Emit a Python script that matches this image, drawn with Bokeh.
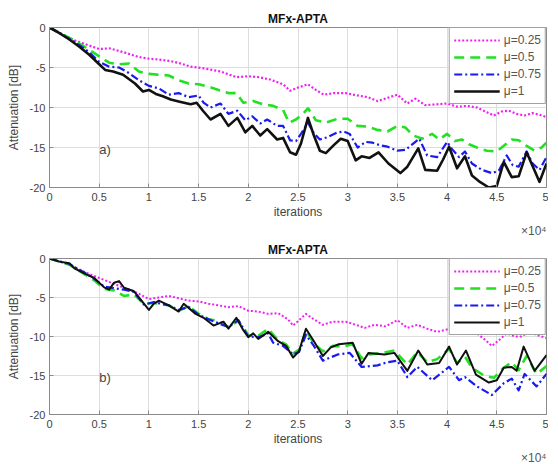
from bokeh.plotting import figure
from bokeh.layouts import column
from bokeh.models import Label, Legend, LegendItem, FixedTicker, Range1d, Title
from bokeh.embed import file_html
from bokeh.resources import INLINE

# ---------------- data (x in units of 1e4 iterations, y in dB) ----------------
x_ticks = [0, 0.5, 1, 1.5, 2, 2.5, 3, 3.5, 4, 4.5, 5]
y_ticks = [-20, -15, -10, -5, 0]
labels = ["\u03bc=0.25", "\u03bc=0.5", "\u03bc=0.75", "\u03bc=1"]
title_text = "MFx-APTA"
x_exponent = "\u00d710\u2074"

# panel a)
a_mu025_x = [0, 0.25, 0.5, 0.6, 0.75, 0.9, 1.0, 1.1, 1.22, 1.32, 1.42, 1.55, 1.72, 1.88, 2.0, 2.1, 2.22, 2.35,
             2.42, 2.5, 2.6, 2.68, 2.76, 2.86, 2.98, 3.1, 3.2, 3.3, 3.4, 3.5, 3.6, 3.68, 3.78, 3.9, 4.0, 4.1, 4.2,
             4.3, 4.4, 4.47, 4.55, 4.62, 4.7, 4.78, 4.86, 4.93, 5.0]
a_mu025_y = [0, -1.6, -2.7, -2.6, -3.1, -3.7, -3.9, -4.0, -4.2, -4.5, -4.9, -5.1, -5.5, -6.2, -6.1, -6.2, -6.5,
             -7.1, -7.9, -7.5, -7.1, -7.8, -8.4, -8.2, -8.2, -8.5, -8.7, -9.2, -8.8, -8.4, -9.5, -8.9, -9.7, -9.6,
             -9.5, -9.9, -9.8, -10.0, -10.6, -11.0, -10.5, -10.4, -10.8, -11.0, -10.7, -10.9, -11.2]

a_mu05_x = [0, 0.2, 0.3, 0.4, 0.5, 0.6, 0.7, 0.8, 0.9, 1.0, 1.1, 1.2, 1.3, 1.4, 1.5, 1.6, 1.7, 1.8, 1.88, 1.95,
            2.05, 2.15, 2.25, 2.35, 2.41, 2.48, 2.55, 2.6, 2.68, 2.78, 2.9, 3.0, 3.1, 3.2, 3.3, 3.4, 3.5, 3.58,
            3.66, 3.75, 3.85, 3.92, 4.0, 4.08, 4.15, 4.22, 4.3, 4.4, 4.5, 4.58, 4.65, 4.72, 4.8, 4.88, 4.95, 5.0]
a_mu05_y = [0, -1.3, -2.0, -2.8, -3.6, -4.4, -4.6, -4.5, -5.5, -5.8, -5.9, -6.0, -6.6, -7.0, -7.1, -7.4, -7.8,
            -8.2, -8.2, -9.4, -9.2, -9.6, -9.8, -10.3, -11.9, -11.5, -10.8, -10.1, -11.6, -11.9, -11.4, -11.4,
            -12.3, -12.4, -12.8, -13.0, -12.3, -12.5, -13.5, -13.9, -13.3, -14.0, -13.3, -14.2, -14.0, -14.6,
            -15.0, -15.4, -15.5, -14.7, -14.0, -14.1, -14.8, -15.4, -15.0, -14.4]

a_mu075_x = [0, 0.2, 0.3, 0.4, 0.5, 0.6, 0.7, 0.8, 0.9, 1.0, 1.1, 1.2, 1.3, 1.4, 1.5, 1.55, 1.62, 1.72, 1.8, 1.89,
             1.97, 2.04, 2.12, 2.19, 2.29, 2.35, 2.42, 2.48, 2.53, 2.6, 2.66, 2.72, 2.8, 2.9, 2.96, 3.02, 3.1, 3.18,
             3.25, 3.32, 3.4, 3.5, 3.58, 3.65, 3.72, 3.8, 3.9, 4.0, 4.05, 4.12, 4.18, 4.25, 4.35, 4.45, 4.52, 4.6,
             4.66, 4.72, 4.8, 4.86, 4.93, 5.0]
a_mu075_y = [0, -1.4, -2.2, -3.1, -4.3, -4.9, -5.0, -5.7, -6.6, -7.3, -7.6, -8.4, -8.2, -8.7, -8.5, -9.4, -10.0,
             -9.5, -10.8, -10.4, -11.6, -11.1, -12.0, -11.5, -12.3, -12.3, -14.1, -14.2, -13.3, -11.9, -13.2,
             -14.0, -13.7, -13.1, -13.0, -13.3, -15.0, -14.3, -14.4, -14.7, -14.9, -15.4, -15.3, -14.6, -13.9,
             -16.0, -16.2, -14.3, -15.2, -16.2, -15.5, -17.0, -17.8, -18.2, -17.9, -16.0, -17.2, -17.4, -15.5,
             -17.0, -17.8, -16.2]

a_mu1_x = [0, 0.1, 0.2, 0.3, 0.4, 0.5, 0.56, 0.64, 0.74, 0.86, 0.94, 1.0, 1.07, 1.14, 1.22, 1.32, 1.42, 1.48,
           1.55, 1.62, 1.72, 1.8, 1.89, 1.97, 2.04, 2.12, 2.19, 2.29, 2.35, 2.42, 2.48, 2.53, 2.6, 2.66, 2.72,
           2.78, 2.86, 2.93, 3.0, 3.08, 3.14, 3.22, 3.31, 3.41, 3.53, 3.6, 3.71, 3.78, 3.9, 3.96, 4.02, 4.1, 4.18,
           4.25, 4.33, 4.42, 4.5, 4.57, 4.65, 4.72, 4.8, 4.86, 4.93, 5.0]
a_mu1_y = [0, -0.7, -1.5, -2.4, -3.4, -4.6, -5.3, -5.5, -5.9, -7.0, -8.0, -7.8, -8.3, -8.6, -9.0, -9.3, -9.6,
           -9.4, -10.5, -11.5, -10.8, -12.3, -11.3, -13.1, -12.3, -13.5, -12.7, -14.0, -13.8, -15.6, -15.9,
           -14.5, -11.3, -13.5, -15.4, -15.7, -14.7, -13.9, -14.2, -16.6, -16.1, -16.3, -15.6, -17.0, -18.2,
           -17.4, -15.1, -17.8, -17.9, -16.5, -14.9, -17.6, -16.1, -18.5, -19.3, -20.0, -19.8, -16.8, -18.7,
           -18.6, -15.6, -17.3, -19.3, -17.0]

# panel b)
b_mu025_x = [0, 0.2, 0.4, 0.6, 0.75, 0.85, 1.0, 1.1, 1.2, 1.3, 1.4, 1.5, 1.6, 1.7, 1.8, 1.9, 2.0, 2.1, 2.2, 2.3,
             2.4, 2.45, 2.52, 2.58, 2.66, 2.75, 2.85, 2.98, 3.08, 3.17, 3.27, 3.38, 3.5, 3.6, 3.7, 3.8, 3.9, 4.0,
             4.1, 4.2, 4.3, 4.38, 4.45, 4.52, 4.6, 4.68, 4.75, 4.82, 4.9, 5.0]
b_mu025_y = [0, -0.8, -2.0, -3.0, -3.75, -4.2, -5.2, -5.0, -4.8, -5.1, -5.4, -5.5, -5.8, -6.0, -6.25, -6.1, -6.7,
             -6.8, -7.1, -7.0, -7.8, -8.6, -7.8, -7.1, -7.8, -8.5, -8.1, -8.1, -8.5, -8.9, -8.5, -8.7, -7.9, -8.9,
             -8.5, -9.0, -9.4, -9.1, -9.2, -9.4, -9.6, -10.4, -11.2, -10.5, -9.6, -10.0, -10.0, -9.4, -9.8, -10.2]

b_mu05_x = [0, 0.2, 0.35, 0.45, 0.55, 0.65, 0.75, 0.85, 0.95, 1.05, 1.2, 1.3, 1.4, 1.5, 1.6, 1.7, 1.8, 1.9, 2.0,
            2.1, 2.2, 2.3, 2.38, 2.45, 2.52, 2.58, 2.66, 2.75, 2.85, 2.95, 3.05, 3.14, 3.22, 3.35, 3.47, 3.6, 3.7,
            3.8, 3.9, 4.02, 4.1, 4.18, 4.25, 4.37, 4.47, 4.57, 4.65, 4.72, 4.8, 4.9, 5.0]
b_mu05_y = [0, -0.8, -2.0, -2.8, -3.9, -4.1, -4.8, -4.6, -5.8, -5.7, -6.0, -6.7, -6.1, -7.1, -7.8, -8.0, -8.8,
            -8.0, -9.8, -9.9, -9.0, -10.5, -11.0, -12.2, -11.6, -9.2, -10.9, -11.9, -11.2, -11.3, -11.0, -12.8,
            -12.3, -12.1, -11.8, -13.6, -12.0, -13.3, -12.9, -11.6, -13.4, -12.6, -14.0, -15.0, -15.3, -14.0,
            -13.3, -14.3, -12.5, -14.8, -13.8]

b_mu075_x = [0, 0.2, 0.35, 0.45, 0.55, 0.65, 0.75, 0.85, 0.95, 1.05, 1.2, 1.3, 1.4, 1.5, 1.6, 1.7, 1.8, 1.9, 2.0,
             2.1, 2.2, 2.25, 2.35, 2.45, 2.51, 2.58, 2.66, 2.75, 2.9, 3.02, 3.14, 3.3, 3.4, 3.5, 3.6, 3.7, 3.85,
             4.02, 4.12, 4.18, 4.3, 4.45, 4.57, 4.65, 4.72, 4.78, 4.9, 5.0]
b_mu075_y = [0, -0.7, -1.8, -2.6, -3.6, -3.8, -4.0, -4.3, -5.9, -5.6, -6.0, -6.6, -6.2, -7.2, -7.8, -8.3, -8.8,
             -7.9, -10.0, -10.1, -9.6, -10.8, -11.2, -12.3, -12.0, -9.8, -11.2, -13.1, -12.3, -12.1, -13.9, -13.7,
             -13.3, -13.1, -15.2, -13.9, -15.6, -13.9, -15.6, -15.2, -16.4, -17.5, -16.0, -15.4, -16.9, -14.8,
             -16.4, -14.8]

b_mu1_x = [0, 0.1, 0.2, 0.25, 0.35, 0.45, 0.55, 0.6, 0.65, 0.7, 0.75, 0.85, 0.95, 1.0, 1.05, 1.1, 1.2, 1.3, 1.35,
           1.47, 1.55, 1.65, 1.75, 1.8, 1.88, 1.95, 2.0, 2.05, 2.1, 2.2, 2.3, 2.38, 2.45, 2.51, 2.58, 2.66, 2.75,
           2.83, 2.91, 3.05, 3.14, 3.21, 3.37, 3.47, 3.6, 3.71, 3.8, 3.92, 4.02, 4.1, 4.19, 4.29, 4.42, 4.5, 4.57,
           4.65, 4.7, 4.77, 4.88, 5.0]
b_mu1_y = [0, -0.4, -0.6, -1.25, -1.9, -2.5, -3.7, -4.0, -3.1, -2.9, -3.75, -4.2, -5.8, -6.6, -5.8, -5.4, -6.0,
           -6.8, -5.8, -7.1, -7.6, -8.6, -8.1, -9.0, -7.6, -9.2, -10.1, -9.6, -10.3, -9.4, -10.6, -11.2, -12.7,
           -11.9, -9.0, -10.6, -12.5, -11.4, -11.0, -10.8, -13.5, -12.1, -12.3, -12.1, -14.4, -11.8, -13.6, -13.4,
           -11.3, -13.6, -11.8, -14.9, -15.9, -15.6, -14.0, -13.9, -14.4, -11.3, -14.4, -12.4]

# ---------------- styling ----------------
FONT = "Liberation Sans"
colors = ["#f020f0", "#22e022", "#1a1aee", "#111111"]
dashes = ["2 2", "10 6", "8 3 2 3", "solid"]
widths_a = [2.2, 2.6, 2.2, 2.6]
widths_b = [2.0, 2.6, 2.2, 2.0]


def panel(series, tag, widths, height, top, bottom):
    p = figure(width=548, height=height, output_backend="svg", toolbar_location=None,
               x_range=Range1d(0, 5), y_range=Range1d(-20, 0),
               min_border_left=49, min_border_right=2, min_border_top=top, min_border_bottom=bottom)
    p.background_fill_color = "white"
    p.border_fill_color = "white"
    p.outline_line_color = "#8a8a8a"
    p.outline_line_width = 1
    p.title.text = title_text
    p.title.align = "center"
    p.title.text_font = FONT
    p.title.text_font_size = "12px"
    p.title.text_font_style = "bold"
    p.title.text_color = "#111111"
    p.title.standoff = 3
    for ax in (p.xaxis[0], p.yaxis[0]):
        ax.axis_line_color = "#8a8a8a"
        ax.major_tick_line_color = "#8a8a8a"
        ax.major_tick_in = 4
        ax.major_tick_out = 0
        ax.minor_tick_line_color = None
        ax.major_label_text_font = FONT
        ax.major_label_text_font_size = "11px"
        ax.major_label_text_color = "#444444"
        ax.axis_label_text_font = FONT
        ax.axis_label_text_font_size = "12px"
        ax.axis_label_text_color = "#444444"
        ax.axis_label_text_font_style = "normal"
    p.xaxis.ticker = FixedTicker(ticks=x_ticks)
    p.yaxis.ticker = FixedTicker(ticks=y_ticks)
    p.xaxis.major_label_overrides = {t: f"{t:g}" for t in x_ticks}
    p.yaxis.major_label_overrides = {t: f"{t:g}" for t in y_ticks}
    p.xaxis.major_label_standoff = 5
    p.yaxis.major_label_standoff = 4
    p.xaxis.axis_label = "iterations"
    p.yaxis.axis_label = "Attenuation [dB]"
    p.xaxis.axis_label_standoff = 1
    p.yaxis.axis_label_standoff = 6
    p.xgrid.ticker = FixedTicker(ticks=x_ticks)
    p.ygrid.ticker = FixedTicker(ticks=y_ticks)
    p.grid.grid_line_color = "#dddddd"
    p.grid.grid_line_width = 1

    items = []
    for (xs, ys), lab, c, d, w in zip(series, labels, colors, dashes, widths):
        r = p.line(xs, ys, line_color=c, line_dash=d, line_width=w, line_join="round")
        items.append(LegendItem(label=lab, renderers=[r]))
    leg = Legend(items=items, location="top_right", margin=0, padding=4, spacing=1,
                 glyph_width=46, glyph_height=16, label_height=16, label_standoff=4,
                 label_text_font=FONT, label_text_font_size="12px", label_text_color="#555555",
                 border_line_color="#444444", border_line_width=1, background_fill_color="white",
                 background_fill_alpha=1)
    p.add_layout(leg)

    p.add_layout(Label(x=0.5, y=-15.2, text=tag, text_align="left", text_baseline="middle",
                       text_font=FONT, text_font_size="13px", text_color="#444444"))
    p.add_layout(Title(text=x_exponent, align="right", text_font=FONT, text_font_size="12px",
                       text_font_style="normal", text_color="#555555", standoff=0), "below")
    return p


pa = panel([(a_mu025_x, a_mu025_y), (a_mu05_x, a_mu05_y), (a_mu075_x, a_mu075_y), (a_mu1_x, a_mu1_y)],
           "a)", widths_a, 238, 27, 51)
pb = panel([(b_mu025_x, b_mu025_y), (b_mu05_x, b_mu05_y), (b_mu075_x, b_mu075_y), (b_mu1_x, b_mu1_y)],
           "b)", widths_b, 226, 20, 46)

layout = column(pa, pb, spacing=0)
open("out.html", "w").write(file_html(layout, INLINE))
